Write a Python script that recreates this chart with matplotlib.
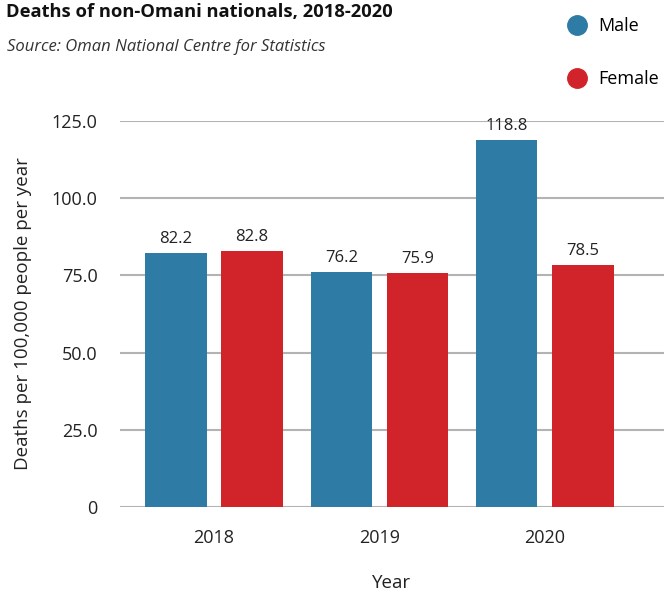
import matplotlib
matplotlib.use("Agg")
import matplotlib.pyplot as plt
from matplotlib.lines import Line2D
import numpy as np

years = ["2018", "2019", "2020"]
male = [82.2, 76.2, 118.8]
female = [82.8, 75.9, 78.5]
series_names = ["Male", "Female"]
colors = ["#2E7BA6", "#D1232A"]
yticks = [0, 25, 50, 75, 100, 125]
ytick_labels = ["0", "25.0", "50.0", "75.0", "100.0", "125.0"]

plt.rcParams['font.family'] = ['Open Sans', 'DejaVu Sans']

fig = plt.figure(figsize=(6.64, 5.94), dpi=100)
ax = fig.add_axes([120/664, 87/594, 544/664, 386/594])

x = np.arange(len(years))
w = 0.37
off = 0.23
b1 = ax.bar(x - off, male, width=w, color=colors[0], zorder=3)
b2 = ax.bar(x + off, female, width=w, color=colors[1], zorder=3)
for bars, vals in ((b1, male), (b2, female)):
    for rect, v in zip(bars, vals):
        ax.text(rect.get_x() + rect.get_width()/2, v + 3.2, f"{v:.1f}",
                ha="center", va="baseline", fontsize=12, color="#222222")

ax.set_ylim(0, 125)
ax.set_xlim(-0.568, 2.72)
ax.set_yticks(yticks)
ax.set_yticklabels(ytick_labels, fontsize=13, color="#222222")
ax.set_xticks(x)
ax.set_xticklabels(years, fontsize=13, color="#222222")
ax.tick_params(axis="y", length=0, pad=16)
ax.tick_params(axis="x", length=0, pad=16)
ax.grid(axis="y", color="#b3b3b3", linewidth=1.5, zorder=0)
for s in ax.spines.values():
    s.set_visible(False)
ax.set_ylabel("Deaths per 100,000 people per year", fontsize=13.5, color="#222222", labelpad=14)
ax.set_xlabel("Year", fontsize=13.5, color="#222222", labelpad=19)

fig.text(6/664, 1 - 12/594, "Deaths of non-Omani nationals, 2018-2020", fontsize=13.2,
         fontweight="bold", ha="left", va="center", color="#111111")
fig.text(7/664, 1 - 47/594, "Source: Oman National Centre for Statistics", fontsize=12,
         style="italic", ha="left", va="center", color="#333333")

handles = [Line2D([], [], marker="o", linestyle="none", markersize=14,
                  markerfacecolor=c, markeredgecolor=c) for c in colors]
fig.legend(handles, series_names, loc="upper left", bbox_to_anchor=(556/664, 1 - 10/594),
           frameon=False, fontsize=13, labelspacing=1.95, handletextpad=0.45,
           borderaxespad=0, handlelength=1.5)

fig.savefig("out.png", dpi=100)
